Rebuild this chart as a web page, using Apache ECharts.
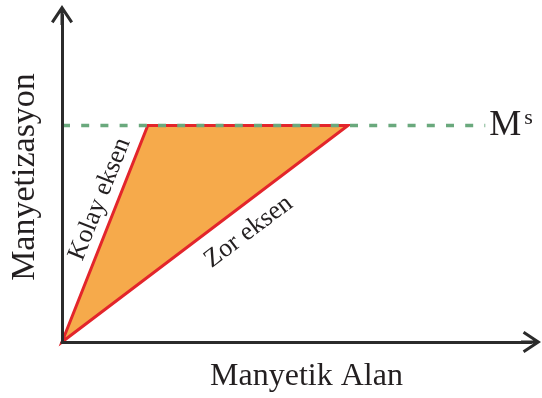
<!DOCTYPE html>
<html>
<head>
<meta charset="utf-8">
<script src="https://cdn.jsdelivr.net/npm/echarts@6/dist/echarts.min.js"></script>
<style>
  html, body { margin: 0; padding: 0; background: #fff; }
  #chart { width: 542px; height: 398px; }
</style>
</head>
<body>
<div id="chart"></div>
<script>
// Magnetization curves: easy axis saturates quickly, hard axis needs a larger field.
const axisTitles = ['Manyetik Alan', 'Manyetizasyon'];
const curveNames = ['Kolay eksen', 'Zor eksen'];
const easyCurve = [[0, 0], [0.3, 1]];
const hardCurve = [[0, 0], [1.0, 1]];
const saturationLine = [[0, 1], [1.48, 1]];
const saturationLabel = ['M', 's'];
const fieldMax = 1.64;
const magMax = 1.51;

const SERIF = '"Liberation Serif", "DejaVu Serif", serif';
const INK = '#231f20';
const AXIS = '#2b2b2b';

// open chevron arrow head with shaft, pointing up
const arrowPath = 'path://M11,0 L22,16.6 L19.5,18.3 L11,5.4 L2.5,18.3 L0,16.6 Z M9.5,2 L12.5,2 L12.5,20 L9.5,20 Z';

const region = [easyCurve[0], easyCurve[1], hardCurve[1]];
const segments = [easyCurve[0].concat(easyCurve[1]), hardCurve[0].concat(hardCurve[1])];
const labelPlace = [{ t: 0.63, off: 17.5 }, { t: 0.60, off: -24.7 }];

const chart = echarts.init(document.getElementById('chart'), null, { renderer: 'canvas' });

chart.setOption({
  animation: false,
  backgroundColor: '#ffffff',
  grid: { left: 61, right: 11, top: 15, bottom: 56, containLabel: false },
  xAxis: {
    type: 'value', min: 0, max: fieldMax, z: 5,
    name: axisTitles[0], nameLocation: 'middle', nameGap: 35,
    nameTextStyle: { fontFamily: SERIF, fontSize: 32, color: INK, verticalAlign: 'middle', padding: [0, 0, 0, 20] },
    axisLine: { show: true, symbol: ['none', arrowPath], symbolSize: [22, 20], lineStyle: { color: AXIS, width: 3 } },
    axisTick: { show: false }, axisLabel: { show: false }, splitLine: { show: false }
  },
  yAxis: {
    type: 'value', min: 0, max: magMax, z: 5,
    name: axisTitles[1], nameLocation: 'middle', nameGap: 37,
    nameTextStyle: { fontFamily: SERIF, fontSize: 34, color: INK, verticalAlign: 'middle', padding: [0, 0, 0, 3] },
    axisLine: { show: true, symbol: ['none', arrowPath], symbolSize: [22, 20], lineStyle: { color: AXIS, width: 3 } },
    axisTick: { show: false }, axisLabel: { show: false }, splitLine: { show: false }
  },
  series: [
    {
      // region between easy and hard axis curves
      type: 'custom',
      z: 2,
      data: region,
      renderItem: function (params, api) {
        if (params.dataIndex !== 0) return null;
        const pts = region.map(function (p) { return api.coord(p); });
        return {
          type: 'polygon',
          shape: { points: pts },
          style: { fill: '#f6aa4b', stroke: '#e3252b', lineWidth: 3, lineJoin: 'miter' }
        };
      }
    },
    {
      // saturation level
      type: 'line',
      z: 3,
      data: saturationLine,
      symbol: 'none',
      lineStyle: { color: '#6aa97d', width: 3.5, type: [8, 11.2] },
      endLabel: {
        show: true, distance: 4,
        formatter: '{m|' + saturationLabel[0] + '}{s|' + saturationLabel[1] + '}',
        rich: {
          m: { fontFamily: SERIF, fontSize: 36, color: INK, lineHeight: 36 },
          s: { fontFamily: SERIF, fontSize: 22, color: INK, lineHeight: 8, verticalAlign: 'top', padding: [0, 0, 0, 3] }
        }
      }
    },
    {
      // curve names written along each line
      type: 'custom',
      z: 4,
      data: segments,
      renderItem: function (params, api) {
        const i = params.dataIndex;
        const p0 = api.coord([api.value(0), api.value(1)]);
        const p1 = api.coord([api.value(2), api.value(3)]);
        const dx = p1[0] - p0[0], dy = p1[1] - p0[1];
        const len = Math.sqrt(dx * dx + dy * dy);
        const ux = dx / len, uy = dy / len;
        const nx = uy, ny = -ux;
        const pl = labelPlace[i];
        const cx = p0[0] + dx * pl.t + nx * pl.off;
        const cy = p0[1] + dy * pl.t + ny * pl.off;
        return {
          type: 'text',
          x: cx, y: cy,
          rotation: Math.atan2(-dy, dx),
          style: {
            text: curveNames[i],
            font: '26px ' + SERIF,
            fill: INK,
            align: 'center', verticalAlign: 'middle',
            textAlign: 'center', textVerticalAlign: 'middle'
          }
        };
      }
    }
  ]
});
</script>
</body>
</html>
